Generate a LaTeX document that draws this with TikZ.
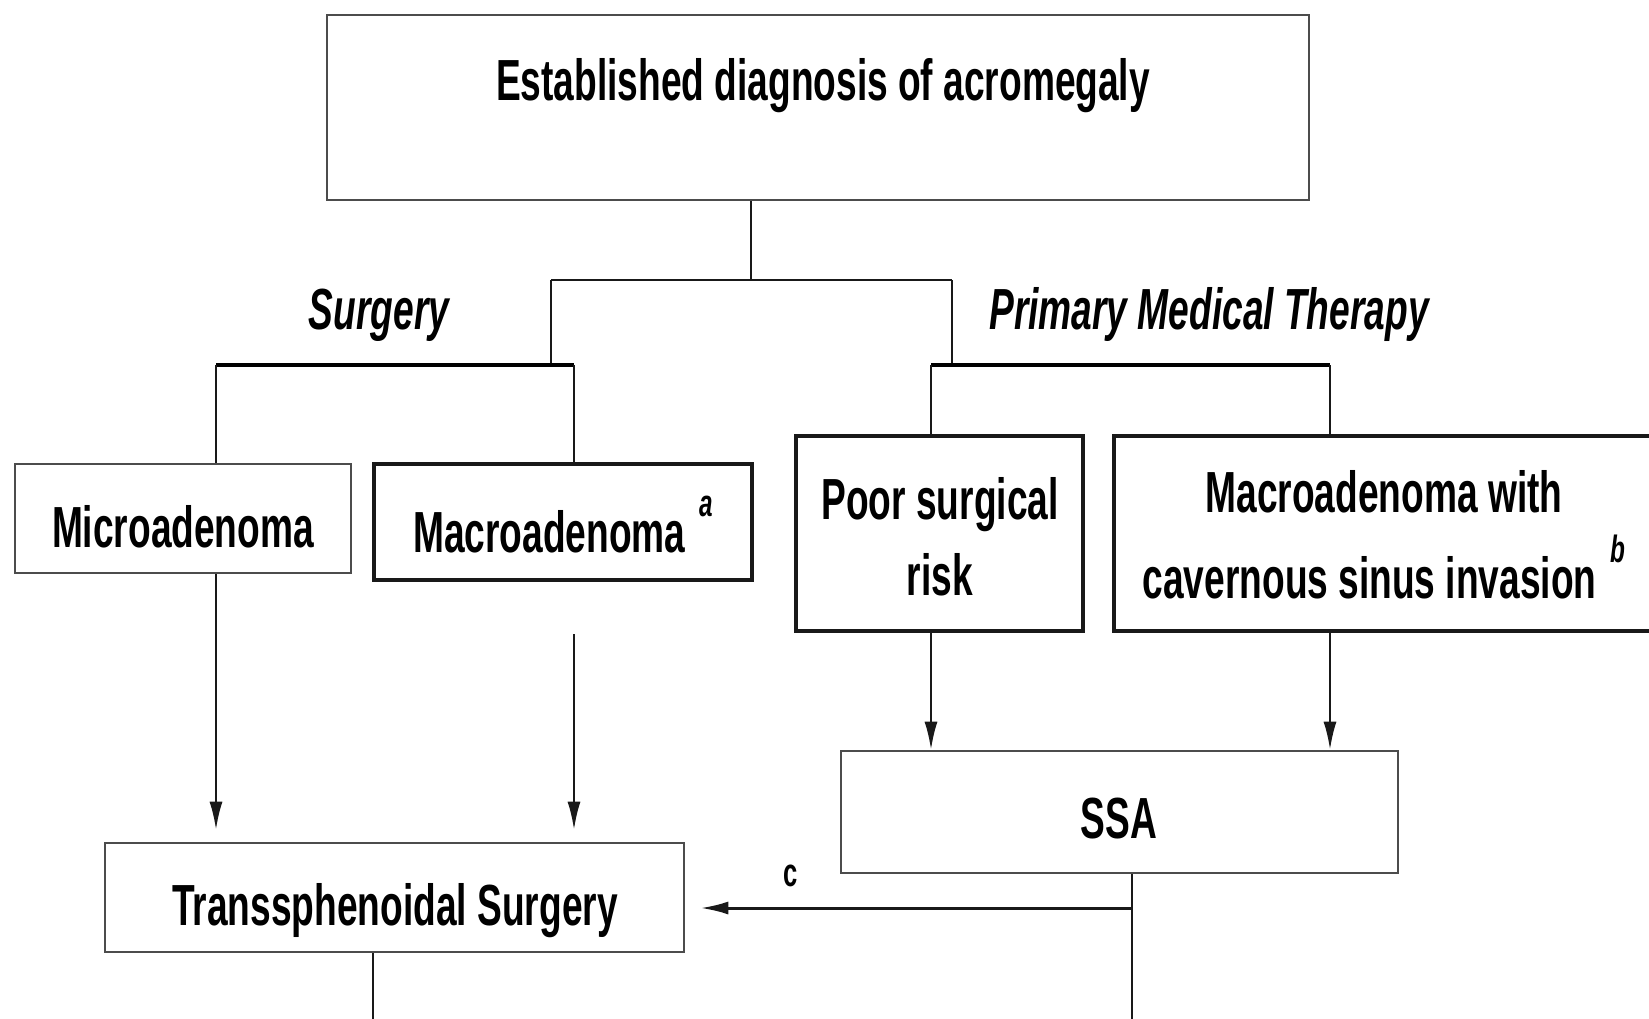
\documentclass[tikz,border=0pt]{standalone}
\usepackage{fontspec}
\setmainfont[FakeStretch=0.64]{Liberation Sans}
\usetikzlibrary{arrows.meta}
\begin{document}
\begin{tikzpicture}[x=1pt,y=-1pt,
  box/.style={draw=black!70, line width=2.6pt, inner sep=0pt},
  darkbox/.style={draw=black!90, line width=3.4pt, inner sep=0pt},
  txt/.style={font=\fontsize{58}{76}\selectfont\bfseries, inner sep=0pt, align=center},
  lbl/.style={font=\fontsize{58}{70}\selectfont\bfseries\itshape, inner sep=0pt},
  conn/.style={line width=2.2pt, draw=black!90},
  bar/.style={line width=4.2pt, draw=black},
  arr/.style={conn, -{Latex[length=28pt,width=13pt]}}]
\clip (0,0) rectangle (1649,1018);
\fill[white] (0,0) rectangle (1649,1018);
\newcommand{\supmark}[1]{\hspace{14pt}\raisebox{36pt}{\fontsize{38}{38}\selectfont\itshape #1}}
% boxes
\node[box, minimum width=982pt, minimum height=185pt] (top) at (818,107.5) {};
\node[txt, anchor=base] (toptxt) at (823,100) {Established diagnosis of acromegaly};
\node[box, minimum width=336pt, minimum height=109pt] (micro) at (183,518.5) {};
\node[txt, anchor=base] (microtxt) at (183,547) {Microadenoma};
\node[darkbox, minimum width=378pt, minimum height=116pt] (macro) at (563,522) {};
\node[txt, anchor=base] (macrotxt) at (563,552) {Macroadenoma\supmark{a}};
\node[darkbox, minimum width=287pt, minimum height=195pt] (poor) at (939.5,533.5) {};
\node[txt] (poortxt) at (940,537) {Poor surgical\\risk};
\node[darkbox, minimum width=566pt, minimum height=195pt] (cav) at (1397,533.5) {};
\node[txt, font=\fontsize{58}{86}\selectfont\bfseries] (cavtxt) at (1384,535) {Macroadenoma with\\cavernous sinus invasion\supmark{b}};
\node[box, minimum width=557pt, minimum height=122pt] (ssa) at (1119.5,812) {};
\node[txt, anchor=base] (ssatxt) at (1119,838) {SSA};
\node[box, minimum width=579pt, minimum height=109pt] (trans) at (394.5,897.5) {};
\node[txt, anchor=base] (transtxt) at (395,925) {Transsphenoidal Surgery};
% labels
\node[lbl, anchor=base] (surg) at (379,329) {Surgery};
\node[lbl, anchor=base] (pmt) at (1209,329) {Primary Medical Therapy};
\node[font=\fontsize{40}{40}\selectfont\bfseries, inner sep=0pt, anchor=base] (clbl) at (791,886) {c};
% junction coordinates
\coordinate (j) at (751,280);
\coordinate (jL) at (551,280);
\coordinate (jR) at (952,280);
\coordinate (lbarL) at (216,365);
\coordinate (lbarR) at (574,365);
\coordinate (rbarL) at (931,365);
\coordinate (rbarR) at (1330,365);
\coordinate (macroStart) at (574,634);
\coordinate (ssaJ) at (1132,908);
\coordinate (ssaEnd) at (1132,1030);
\coordinate (transEnd) at (373,1030);
% connectors
\draw[conn] (j |- top.south) -- (j);
\draw[conn] (jL) -- (jR);
\draw[conn] (jL) -- (jL |- lbarL);
\draw[conn] (jR) -- (jR |- rbarL);
\draw[bar] (lbarL) -- (lbarR);
\draw[bar] (rbarL) -- (rbarR);
\draw[conn] (lbarL) -- (lbarL |- micro.north);
\draw[conn] (lbarR) -- (lbarR |- macro.north);
\draw[conn] (rbarL) -- (rbarL |- poor.north);
\draw[conn] (rbarR) -- (rbarR |- cav.north);
\draw[arr, shorten >=12pt] (lbarL |- micro.south) -- (lbarL |- trans.north);
\draw[arr, shorten >=12pt] (macroStart) -- (macroStart |- trans.north);
\draw[arr] (rbarL |- poor.south) -- (rbarL |- ssa.north);
\draw[arr] (rbarR |- cav.south) -- (rbarR |- ssa.north);
\draw[conn] (ssaJ |- ssa.south) -- (ssaEnd);
\draw[arr, line width=3pt, shorten >=15pt] (ssaJ) -- (ssaJ -| trans.east);
\draw[conn] (transEnd |- trans.south) -- (transEnd);
\end{tikzpicture}
\end{document}
